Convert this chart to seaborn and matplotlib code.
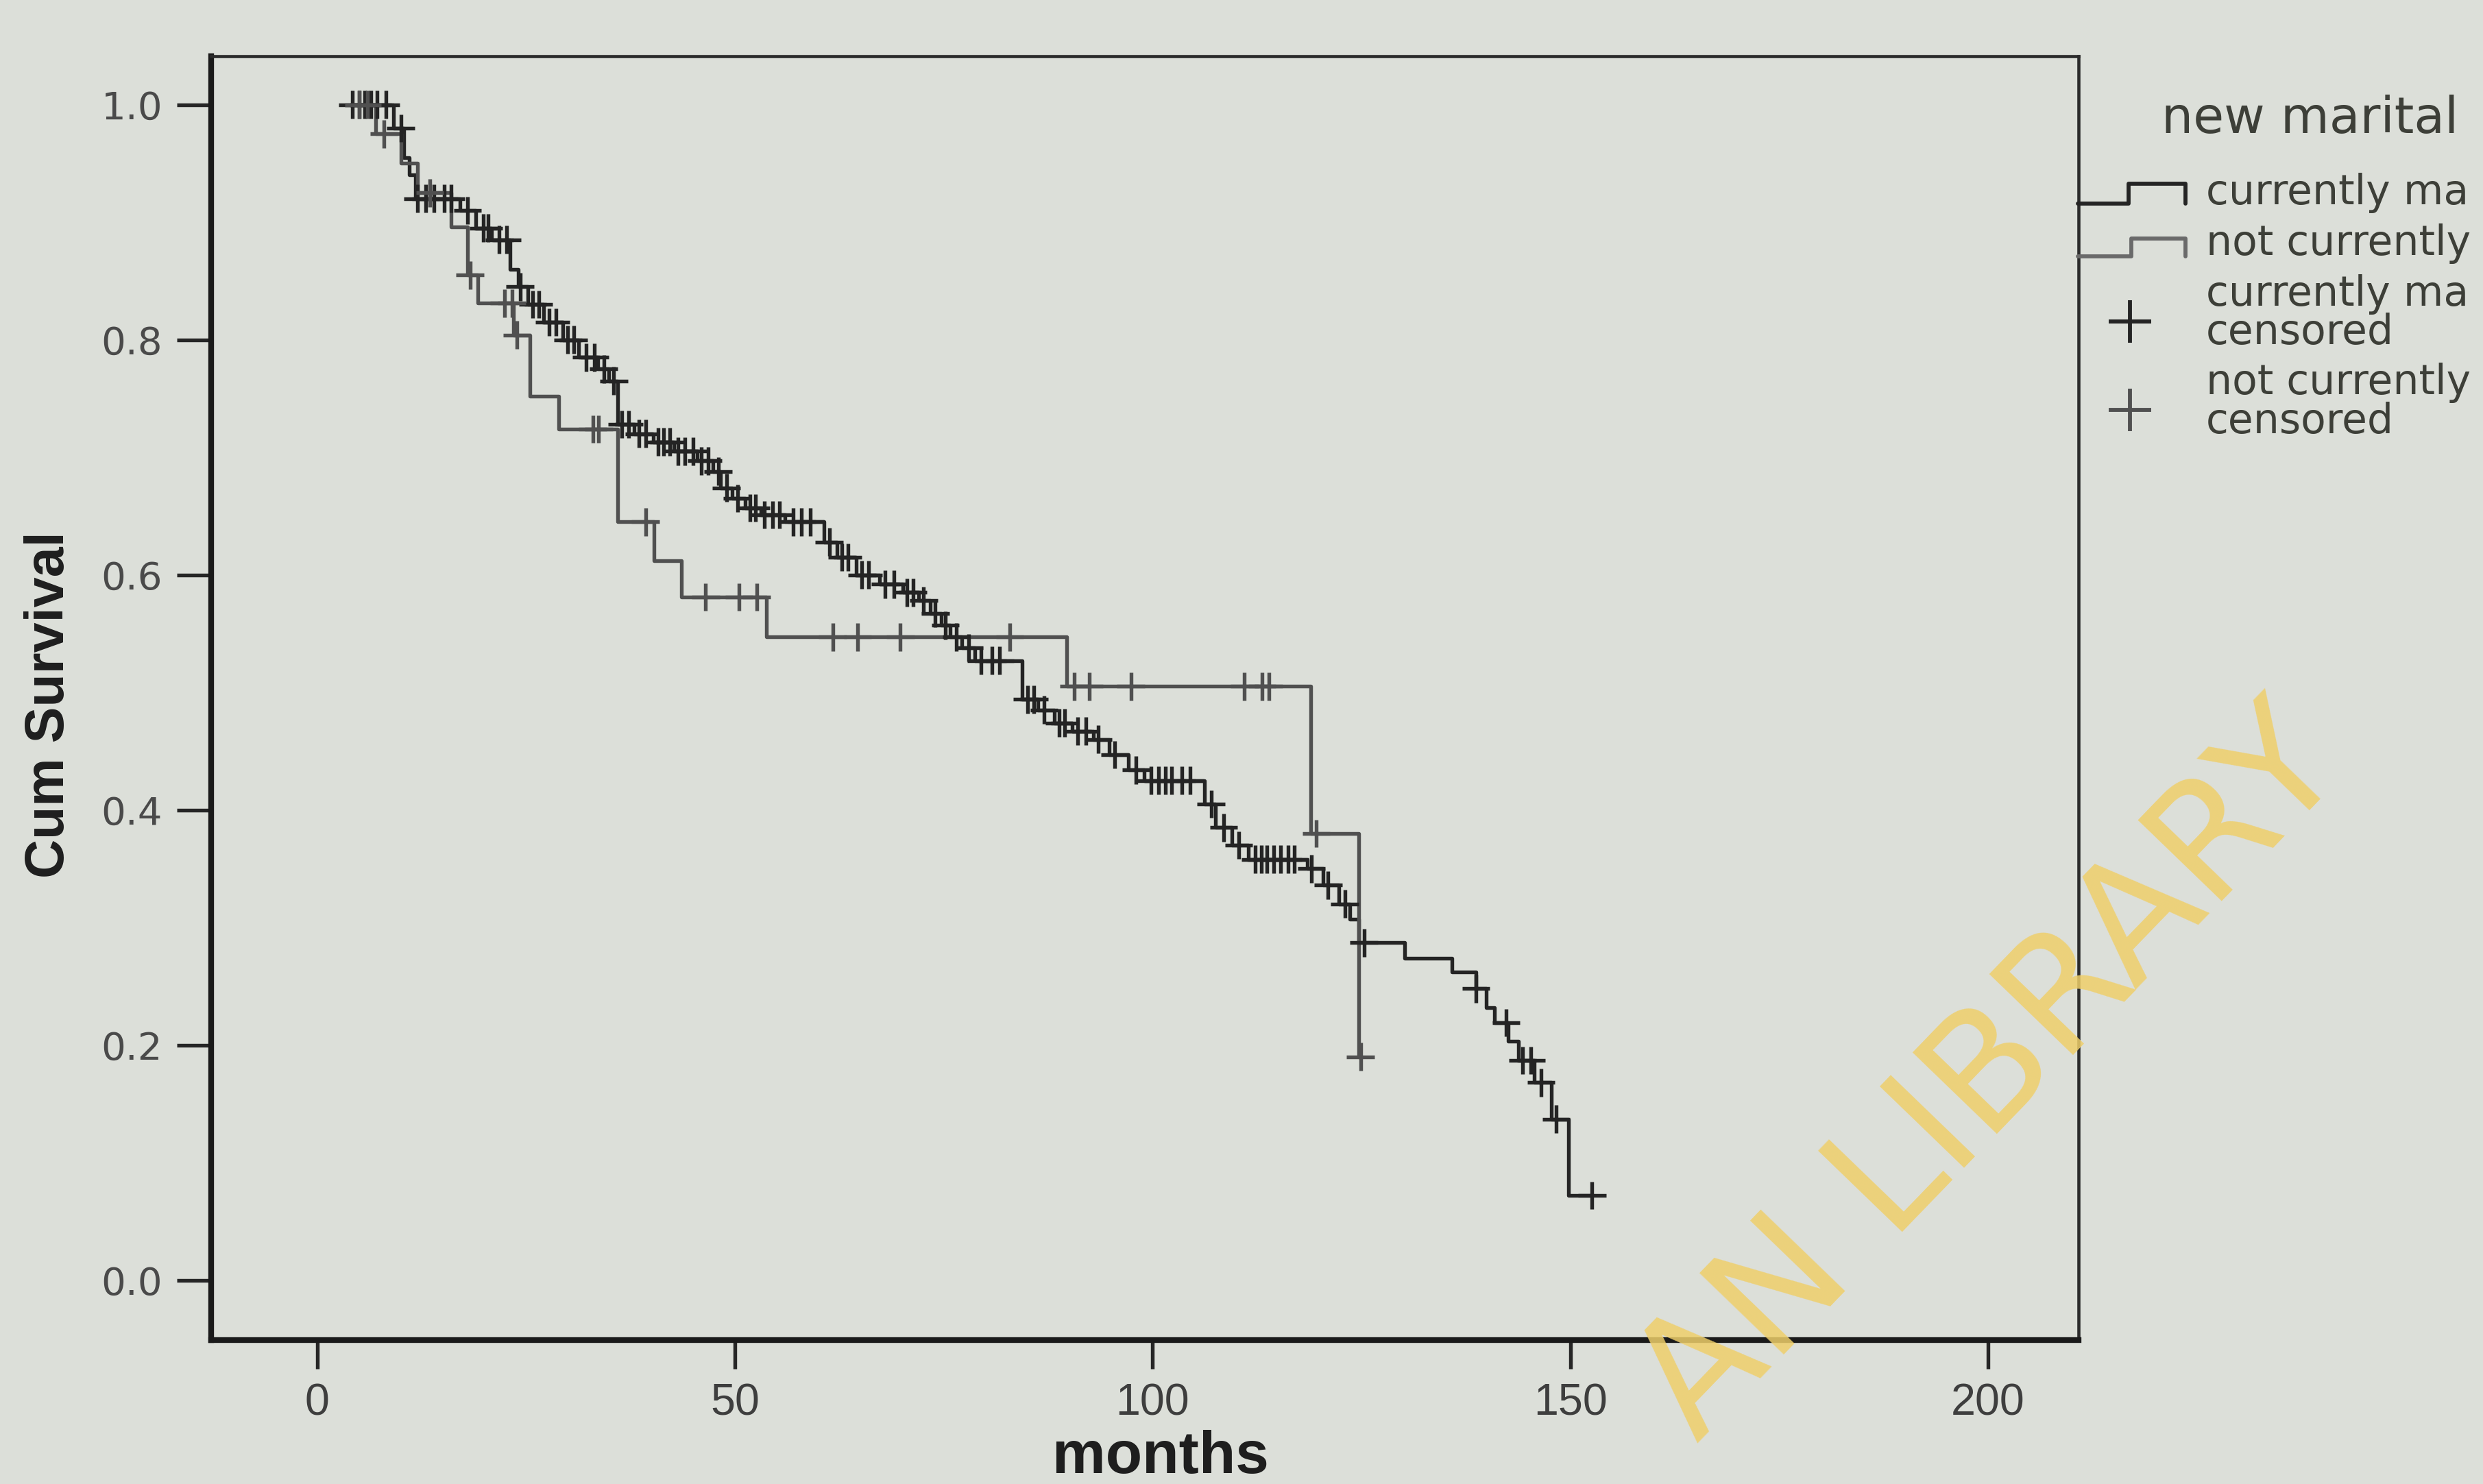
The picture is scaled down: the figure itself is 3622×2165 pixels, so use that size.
import numpy as np
import pandas as pd
import matplotlib
matplotlib.use("Agg")
import matplotlib.pyplot as plt
import seaborn as sns
from matplotlib.lines import Line2D

# ---------------- data ----------------
groups = ["currently ma", "not currently"]

married_event_months = [4, 9.1, 10.4, 11.0, 11.8, 17.1, 19.0, 20.9, 23.1, 24.1,
                        25.2, 27.1, 29.4, 31.3, 33.6, 34.9, 36.0, 37.9, 40.2, 42.7,
                        45.5, 47.4, 48.3, 49.7, 51.2, 53.1, 56.0, 60.7, 62.2, 64.5,
                        67.3, 70.1, 72.0, 73.4, 74.7, 75.8, 77.2, 78.7, 84.4, 86.3,
                        88.2, 90.4, 92.9, 94.8, 97.1, 99.0, 106.2, 107.5, 109.5, 111.5,
                        118.5, 120.4, 122.3, 123.6, 124.7, 130.2, 135.8, 138.7, 139.9, 140.9,
                        142.6, 143.8, 145.7, 147.7, 149.8]
married_surv = [1.0, 0.98, 0.955, 0.94, 0.92, 0.91, 0.895, 0.885, 0.86, 0.845,
                0.83, 0.815, 0.80, 0.785, 0.775, 0.765, 0.728, 0.72, 0.713, 0.705,
                0.697, 0.688, 0.674, 0.665, 0.657, 0.651, 0.645, 0.628, 0.615, 0.60,
                0.592, 0.585, 0.578, 0.567, 0.557, 0.547, 0.538, 0.527, 0.494, 0.485,
                0.474, 0.467, 0.46, 0.447, 0.434, 0.425, 0.405, 0.385, 0.37, 0.358,
                0.35, 0.336, 0.32, 0.307, 0.287, 0.274, 0.262, 0.248, 0.232, 0.219,
                0.203, 0.187, 0.168, 0.137, 0.072]
married_censor_months = [4.2, 5.0, 5.7, 6.4, 7.2, 8.2, 10.0, 12.0, 13.0, 14.0, 15.2, 16.0,
                         18.0, 19.9, 20.5, 21.8, 22.7, 24.3, 25.8, 26.5, 27.8, 28.6, 30.0,
                         30.7, 32.2, 33.2, 34.3, 35.5, 36.5, 37.3, 38.5, 39.3, 40.8, 41.5,
                         42.2, 43.2, 44.0, 45.0, 46.0, 46.8, 48.0, 49.0, 50.3, 51.8, 52.5,
                         53.5, 54.5, 55.3, 57.0, 58.0, 59.0, 61.3, 62.8, 63.5, 65.2, 66.0,
                         68.0, 69.0, 70.6, 71.3, 72.6, 74.0, 75.2, 76.5, 78.0, 79.5, 80.8,
                         81.7, 85.0, 85.8, 87.0, 88.8, 89.5, 91.0, 92.0, 93.5, 95.5, 98.0,
                         99.8, 100.7, 101.5, 102.3, 103.5, 104.5, 107.0, 108.5, 110.3, 112.3,
                         113.0, 113.7, 114.5, 115.3, 116.2, 117.0, 119.0, 121.0, 123.0, 125.3,
                         138.7, 142.3, 144.3, 145.3, 146.5, 148.3, 152.6]

notcur_event_months = [4, 7, 10, 12, 16, 18.0, 19.2, 23.5, 25.5, 28.9, 36.0, 40.3,
                       43.6, 53.8, 89.7, 118.9, 124.7]
notcur_surv = [1.0, 0.975, 0.95, 0.925, 0.896, 0.855, 0.831, 0.804, 0.752, 0.724,
               0.645, 0.612, 0.581, 0.547, 0.505, 0.38, 0.19]
notcur_censor_months = [5.0, 6.0, 8.0, 13.5, 18.3, 22.4, 23.3, 23.9, 33.0, 33.7, 39.3,
                        46.5, 50.5, 52.6, 61.7, 64.7, 69.8, 82.9, 90.6, 92.4, 97.4,
                        111.0, 113.1, 113.9, 119.6, 124.9]

x_ticks = [0, 50, 100, 150, 200]
y_ticks = [0.0, 0.2, 0.4, 0.6, 0.8, 1.0]
y_tick_labels = ["0.0", "0.2", "0.4", "0.6", "0.8", "1.0"]

# ---------------- tables ----------------
def build(group, ev_t, ev_s, cens_t):
    ev_t = np.asarray(ev_t, float)
    ev_s = np.asarray(ev_s, float)
    cens_t = np.asarray(cens_t, float)
    t_line = list(ev_t)
    s_line = list(ev_s)
    if cens_t.max() > ev_t.max():
        t_line.append(cens_t.max())
        s_line.append(ev_s[-1])
    idx = np.searchsorted(ev_t, cens_t, side="right") - 1
    idx = np.clip(idx, 0, len(ev_s) - 1)
    line = pd.DataFrame({"months": t_line, "surv": s_line, "group": group})
    cens = pd.DataFrame({"months": cens_t, "surv": ev_s[idx], "group": group})
    return line, cens

l1, c1 = build(groups[0], married_event_months, married_surv, married_censor_months)
l2, c2 = build(groups[1], notcur_event_months, notcur_surv, notcur_censor_months)
curves = pd.concat([l1, l2], ignore_index=True)
censored = pd.concat([c1, c2], ignore_index=True)

# ---------------- style ----------------
bg = "#dcdfd9"
ink = "#262626"
palette = {groups[0]: "#242424", groups[1]: "#505050"}

sns.set_theme(style="ticks")
plt.rcParams["font.family"] = ["DejaVu Sans"]
arial = ["Liberation Sans", "DejaVu Sans"]

fig = plt.figure(figsize=(3622 / 300, 2165 / 300), dpi=300, facecolor=bg)
ax = fig.add_axes([0.085, 0.097, 0.752, 0.865])
ax.set_facecolor(bg)

sns.lineplot(data=curves, x="months", y="surv", hue="group", palette=palette,
             drawstyle="steps-post", estimator=None, sort=False, legend=False,
             linewidth=1.3, ax=ax, zorder=2)
sns.scatterplot(data=censored, x="months", y="surv", hue="group", palette=palette,
                marker="+", s=95, linewidth=1.3, legend=False, ax=ax, zorder=3)

ax.set_xlim(-12.7, 210.8)
ax.set_ylim(-0.051, 1.041)
ax.set_xticks(x_ticks)
ax.set_xticklabels([str(v) for v in x_ticks], family=arial, fontsize=15.5, color="#3e3e3e")
ax.set_yticks(y_ticks)
ax.set_yticklabels(y_tick_labels, fontsize=13.5, color="#4a4a4a")
ax.tick_params(axis="y", length=12, width=1.3, pad=5, color=ink)
ax.tick_params(axis="x", length=10, width=1.3, pad=5, color=ink)
ax.set_xlabel("")
ax.set_ylabel("")
for side in ["left", "bottom"]:
    ax.spines[side].set_linewidth(2.0)
    ax.spines[side].set_color("#1a1a1a")
for side in ["top", "right"]:
    ax.spines[side].set_linewidth(1.1)
    ax.spines[side].set_color("#2a2a2a")

fig.text(0.020, 0.525, "Cum Survival", rotation=90, ha="center", va="center",
         fontsize=19, fontweight="bold", family=arial, color="#1e1e1e")
fig.text(0.4675, 0.018, "months", ha="center", va="center",
         fontsize=21, fontweight="bold", family=arial, color="#1e1e1e")

# ---------------- legend ----------------
W, H = 1568.0, 937.0
def fx(v):
    return np.asarray(v) / W
def fy(v):
    return 1 - np.asarray(v) / H

lc = "#3d3f38"
fig.text(fx(1365), fy(75), "new marital", ha="left", va="center", fontsize=17.5, color=lc)
fig.add_artist(Line2D(fx([1312, 1344, 1344, 1380, 1380]), fy([128.6, 128.6, 116, 116, 128.6]),
                      transform=fig.transFigure, color=palette[groups[0]], lw=1.4))
fig.add_artist(Line2D(fx([1312, 1346, 1346, 1380, 1380]), fy([162, 162, 150.7, 150.7, 162]),
                      transform=fig.transFigure, color="#6a6a6a", lw=1.4))
fig.add_artist(Line2D([fx(1345)], [fy(203)], transform=fig.transFigure, marker="+",
                      markersize=15, mew=1.4, color=palette[groups[0]], linestyle="none"))
fig.add_artist(Line2D([fx(1345)], [fy(259)], transform=fig.transFigure, marker="+",
                      markersize=15, mew=1.4, color=palette[groups[1]], linestyle="none"))
fig.text(fx(1393), fy(122), "currently ma", ha="left", va="center", fontsize=14.4, color=lc)
fig.text(fx(1393), fy(154), "not currently", ha="left", va="center", fontsize=14.4, color=lc)
fig.text(fx(1393), fy(198), "currently ma\ncensored", ha="left", va="center",
         fontsize=14.4, color=lc, linespacing=0.95)
fig.text(fx(1393), fy(254), "not currently\ncensored", ha="left", va="center",
         fontsize=14.4, color=lc, linespacing=0.95)

# watermark
fig.text(0.802, 0.275, "AN LIBRARY", rotation=46, rotation_mode="anchor",
         ha="center", va="center", fontsize=56, color="#efcf6a", alpha=0.85, zorder=10)

fig.savefig("out.png", dpi=300, facecolor=bg)
